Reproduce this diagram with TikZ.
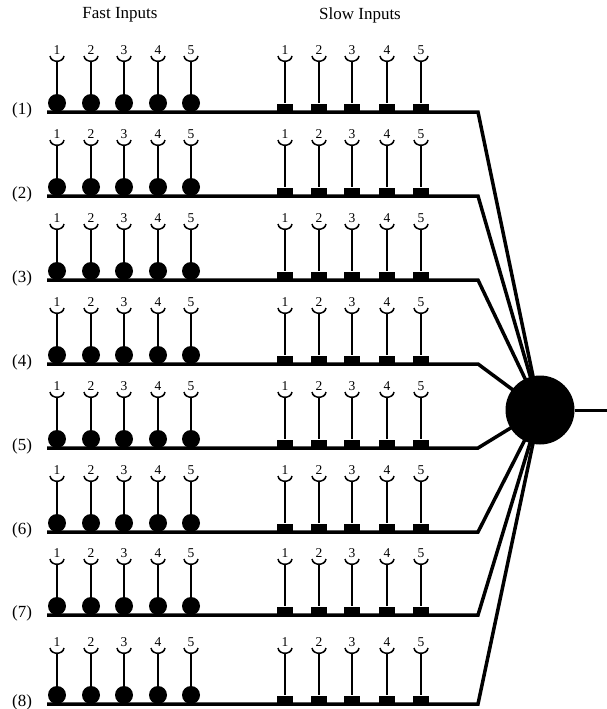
\documentclass[tikz,border=0pt]{standalone}
\usepackage{fontspec}
\setmainfont{Liberation Serif}
\begin{document}
\begin{tikzpicture}[x=1pt,y=-1pt,
  bus/.style={line width=3.5pt,line join=miter},
  stem/.style={line width=1.5pt},
  cup/.style={line width=1.5pt},
  fastpin/.style={circle,fill=black,inner sep=0pt,minimum size=18pt},
  slowpin/.style={rectangle,fill=black,inner sep=0pt,minimum width=16pt,minimum height=7pt},
  num/.style={font=\fontsize{13.5}{13.5}\selectfont,inner sep=0pt},
  lbl/.style={font=\fontsize{17}{17}\selectfont,inner sep=0pt},
  hub/.style={circle,fill=black,inner sep=0pt,minimum size=69pt}]
\useasboundingbox (0,0) rectangle (607,709);

% column titles
\node[lbl] (tfast) at (120,15) {Fast Inputs};
\node[lbl] (tslow) at (360,15) {Slow Inputs};

\coordinate (hubc) at (540,410);

% the eight input lines
\foreach \r/\y in {1/112,2/196,3/280,4/364,5/448,6/532,7/615,8/704} {
  \node[lbl] (row\r) at (22,\y-2) {(\r)};
  \coordinate (start\r) at (47,\y);
  \coordinate (bend\r) at (478,\y);
  \draw[bus] (start\r) -- (bend\r) -- (hubc);
  \foreach \i/\fx/\sx in {1/57/285,2/91/319,3/124/352,4/158/387,5/191/421} {
    % fast input: round pin
    \node[fastpin] (fp-\r-\i) at (\fx,\y-9) {};
    \coordinate (fc-\r-\i) at (\fx,\y-50.5);
    \draw[cup] (\fx-7,\y-56) .. controls (\fx-6,\y-49) and (\fx+6,\y-49) .. (\fx+7,\y-56);
    \draw[stem] (fc-\r-\i) -- (fp-\r-\i.north);
    \node[num] (fn-\r-\i) at (\fx,\y-61.5) {\i};
    % slow input: square pin
    \node[slowpin] (sp-\r-\i) at (\sx,\y-5) {};
    \coordinate (sc-\r-\i) at (\sx,\y-50.5);
    \draw[cup] (\sx-7,\y-56) .. controls (\sx-6,\y-49) and (\sx+6,\y-49) .. (\sx+7,\y-56);
    \draw[stem] (sc-\r-\i) -- (sp-\r-\i.north);
    \node[num] (sn-\r-\i) at (\sx,\y-61.5) {\i};
  }
}

% summing node and its output
\node[hub] (hub) at (hubc) {};
\coordinate (out) at (607,410);
\draw[line width=3pt] (hub.east) -- (out);
\end{tikzpicture}
\end{document}
